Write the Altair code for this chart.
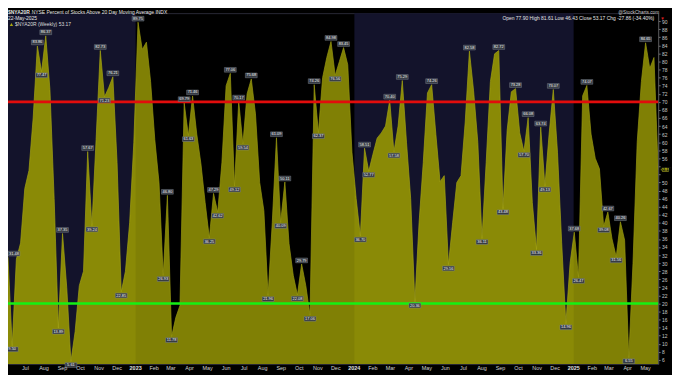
import altair as alt
import pandas as pd

END_DATE = "2025-05-22"
pct_above = [31.48, 9.50, 31, 35, 48.5, 53, 66, 83.86, 77.47, 86.37,
             73, 46, 13.89, 37.35, 24, 5.61, 13, 24.4, 28, 57.67,
             39.24, 60.6, 82.73, 71.23, 73.5, 76.21, 55, 22.85, 28, 40,
             60, 89.75, 83, 84.8, 75, 60.6, 50, 26.93, 46.8, 11.78,
             16.5, 19.5, 69.79, 61.63, 71.46, 62, 54.6, 45, 36.25, 47.29,
             42.62, 55, 74, 77.06, 49.12, 70.17, 59.54, 72, 75.68, 67,
             50, 43, 21.96, 40, 61.09, 40.09, 50.11, 34.8, 27, 22.08,
             29.79, 24.4, 17.06, 74.26, 62.37, 76, 81, 84.98, 76.56, 80,
             83.45, 79.2, 57.5, 46, 36.7, 58.51, 52.77, 57, 61, 62.3,
             64, 70.4, 57.58, 64, 75.29, 60, 46, 20.36, 40, 55,
             72.2, 74.26, 62, 50.2, 51.7, 29.56, 40, 50, 51.7, 65,
             82.58, 72.7, 60, 36.11, 55, 75, 81.9, 82.72, 43.48, 63,
             72.5, 73.28, 62.3, 57.7, 66.08, 45, 33.36, 63.74, 49.13, 62,
             73.07, 57.5, 35, 14.96, 30, 37.68, 26.47, 71.5, 74.07, 62,
             56, 53.4, 39.08, 42.67, 36, 31.56, 40.26, 35.7, 6.55, 30,
             60, 75, 84.65, 78.3, 81, 53.17]
peak_weeks = [7, 9, 13, 19, 22, 25, 31, 38, 42, 44, 49, 53, 55, 58, 64, 66, 70,
              73, 77, 80, 85, 91, 94, 101, 110, 117, 121, 124, 127, 130, 135, 138,
              143, 146, 152]
edge_peak_weeks = [0]
trough_weeks = [1, 8, 12, 15, 20, 23, 27, 37, 39, 43, 48, 50, 54, 56, 62, 65, 69, 72,
                74, 78, 84, 86, 92, 97, 105, 113, 118, 123, 126, 128, 133, 136, 142,
                145, 148]
navy_band_start = ["2022-06-02", "2024-01-01"]
navy_band_end = ["2023-01-01", "2025-01-01"]
dark_band_start = ["2023-01-01", "2025-01-01"]
dark_band_end = ["2024-01-01", "2025-05-22"]
overbought = [70]
oversold = [20]
y_ticks = list(range(6, 91, 2))
month_starts = pd.date_range("2022-07-01", "2025-05-01", freq="MS")
month_names = ["Jan", "Feb", "Mar", "Apr", "May", "Jun", "Jul", "Aug", "Sep", "Oct", "Nov", "Dec"]
title_bold = "$NYA20R"
title_rest = "NYSE Percent of Stocks Above 20 Day Moving Average  INDX"
date_line = "22-May-2025"
legend_line = "$NYA20R (Weekly) 53.17"
site_line = "@StockCharts.com"
ohlc_line = "Open 77.90  High 81.61  Low 46.43  Close 53.17  Chg -27.86 (-34.40%)"
last_value = [53.17]

W, H = 658, 355
FONT = "Liberation Sans"
dates = pd.date_range(end=END_DATE, periods=len(pct_above), freq="7D")
df = pd.DataFrame({"date": dates, "value": pct_above})

xscale = alt.Scale(domain=[alt.DateTime(year=2022, month=6, date=2),
                           alt.DateTime(year=2025, month=5, date=22)])
yscale = alt.Scale(domain=[5, 92], zero=False, nice=False)

y_axis = alt.Axis(
    orient="right", values=y_ticks, labelFontSize=5, labelColor="#c8c8c8", labelFont=FONT,
    labelExpr="datum.value == 52 || datum.value == 54 ? '' : datum.label",
    tickSize=2, tickColor="#777777", domainColor="#555555", labelPadding=1.5,
    labelOverlap=False, labelBound=False, grid=False, title=None,
)

def X(field):
    return alt.X(field, scale=xscale, axis=None)

def Y(field):
    return alt.Y(field, scale=yscale, axis=y_axis)

navy = alt.Chart(pd.DataFrame({"s": navy_band_start, "e": navy_band_end})).mark_rect(
    color="#13132b").encode(x=X("s:T"), x2="e:T", y=alt.value(0), y2=alt.value(H))

area = alt.Chart(df).mark_area(
    color="#8a8a06", clip=True, opacity=1,
    line={"color": "#a3a313", "strokeWidth": 0.7}).encode(x=X("date:T"), y=Y("value:Q"))

dark = alt.Chart(pd.DataFrame({"s": dark_band_start, "e": dark_band_end})).mark_rect(
    color="#000000", opacity=0.07).encode(x=X("s:T"), x2="e:T", y=alt.value(0), y2=alt.value(H))

red = alt.Chart(pd.DataFrame({"level": overbought})).mark_rule(
    color="#e20c0c", strokeWidth=2.6).encode(y=Y("level:Q"))
green = alt.Chart(pd.DataFrame({"level": oversold})).mark_rule(
    color="#14f014", strokeWidth=2.6).encode(y=Y("level:Q"))

def pts(weeks):
    return pd.DataFrame({"date": dates[weeks], "value": [pct_above[i] for i in weeks]})

peaks, edge_peaks, troughs = pts(peak_weeks), pts(edge_peak_weeks), pts(trough_weeks)

box_style = dict(filled=True, fill="#353a43", stroke="#8d949e", strokeWidth=0.4, opacity=1, size=144)

def tags(data, above, dx=0):
    shape = "M-1,-1L1,-1L1,-0.2L-1,-0.2Z" if above else "M-1,0.2L1,0.2L1,1L-1,1Z"
    box = alt.Chart(data).mark_point(shape=shape, xOffset=dx, **box_style).encode(
        x=X("date:T"), y=Y("value:Q"))
    txt = alt.Chart(data).mark_text(fontSize=4, color="#f2f2f2", font=FONT,
                                    dy=-3.5 if above else 3.7, dx=dx).encode(
        x=X("date:T"), y=Y("value:Q"), text=alt.Text("value:Q", format=".2f"))
    return [box, txt]

# month / year labels along the bottom
mdf = pd.DataFrame({"date": month_starts,
                    "label": [str(d.year) if d.month == 1 else month_names[d.month - 1]
                              for d in month_starts],
                    "jan": [d.month == 1 for d in month_starts]})
month_lbl = alt.Chart(mdf).transform_filter("!datum.jan").mark_text(
    fontSize=5.5, font=FONT, color="#d0d0d0", baseline="top").encode(
    x=X("date:T"), y=alt.value(H + 2.5), text="label:N")
year_lbl = alt.Chart(mdf).transform_filter("datum.jan").mark_text(
    fontSize=5.5, font=FONT, fontWeight="bold", color="#e0e0e0", baseline="top").encode(
    x=X("date:T"), y=alt.value(H + 2.5), text="label:N")

one = pd.DataFrame({"k": [0]})
def label(txt, x, y, align="left", bold=False, color="#e6e6e6", size=5):
    return alt.Chart(one).mark_text(
        text=txt, align=align, baseline="top", fontSize=size, font=FONT,
        fontWeight="bold" if bold else "normal", color=color).encode(
        x=alt.value(x), y=alt.value(y))

hdr = [
    label(title_bold, 0, -3, bold=True),
    label(title_rest, 24, -3),
    label(date_line, 0, 2.5),
    label(legend_line, 7, 8.5, color="#dcdcdc"),
    label(site_line, 659, -3, align="right", color="#c8c8c8", size=4.8),
    label(ohlc_line, 654, 2.5, align="right"),
    label("\u25BC", 660, 2.5, color="#e02020", size=4.5),
]
legend_icon = alt.Chart(one).mark_point(shape="triangle-up", filled=True, color="#a5a510",
                                        size=12, opacity=1).encode(
    x=alt.value(3.5), y=alt.value(11.5))

last_df = pd.DataFrame({"value": last_value})
last_box = alt.Chart(last_df).mark_point(
    shape="M-1.15,0L-0.8,-0.48L1,-0.48L1,0.48L-0.8,0.48Z", filled=True, fill="#8f8f08",
    stroke="#c8c830", strokeWidth=0.5, size=49, opacity=1).encode(
    x=alt.value(W + 7), y=Y("value:Q"))
last_txt = alt.Chart(last_df).mark_text(fontSize=4.6, font=FONT, fontWeight="bold",
                                        color="#111111", dx=0.5).encode(
    x=alt.value(W + 7), y=Y("value:Q"), text=alt.Text("value:Q", format=".2f"))

chart = alt.layer(
    navy, area, dark, red, green,
    *tags(peaks, True), *tags(edge_peaks, True, dx=6), *tags(troughs, False),
    month_lbl, year_lbl,
    legend_icon, *hdr, last_box, last_txt,
).properties(
    width=W, height=H,
    autosize=alt.AutoSizeParams(type="none"),
    padding={"left": 0, "top": 3, "right": 14, "bottom": 9},
    background="#000000",
    usermeta={"embedOptions": {"defaultStyle": "html,body{background:#000000;}"}},
).configure_view(stroke="#2c2c3a", strokeWidth=1, fill="#000000")

chart.save("out.html", embed_options={"renderer": "svg", "actions": False})
